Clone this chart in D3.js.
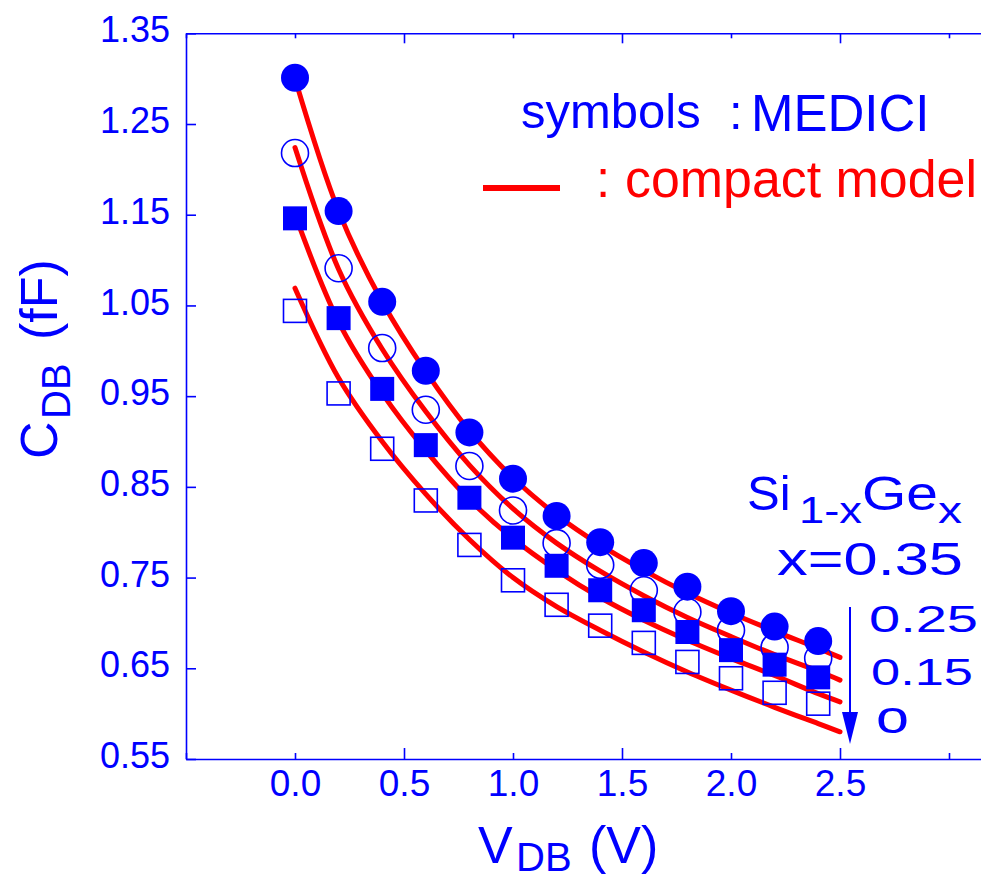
<!DOCTYPE html>
<html>
<head>
<meta charset="utf-8">
<script src="https://cdn.jsdelivr.net/npm/d3@7/dist/d3.min.js"></script>
<style>
  html, body { margin: 0; padding: 0; background: #ffffff; }
  svg { display: block; }
  text { font-family: "Liberation Sans", Arial, sans-serif; }
</style>
</head>
<body>
<svg id="chart" width="981" height="880"></svg>
<script>
// ---------------- data ----------------
const vdb = [0, 0.2, 0.4, 0.6, 0.8, 1.0, 1.2, 1.4, 1.6, 1.8, 2.0, 2.2, 2.4];
// MEDICI symbols
const medici035 = [1.301, 1.154, 1.054, 0.978, 0.910, 0.859, 0.818, 0.789, 0.766, 0.740, 0.713, 0.696, 0.680];
const medici025 = [1.218, 1.091, 1.003, 0.935, 0.873, 0.824, 0.788, 0.764, 0.736, 0.712, 0.692, 0.673, 0.661];
const medici015 = [1.146, 1.036, 0.958, 0.896, 0.838, 0.794, 0.763, 0.736, 0.714, 0.690, 0.670, 0.654, 0.640];
const medici000 = [1.044, 0.953, 0.892, 0.835, 0.786, 0.747, 0.720, 0.697, 0.678, 0.657, 0.639, 0.623, 0.611];
// compact model curves
const vModel = [0, 0.2, 0.4, 0.6, 0.8, 1.0, 1.2, 1.4, 1.6, 1.8, 2.0, 2.2, 2.4, 2.5];
const model035 = [1.300, 1.154, 1.054, 0.977, 0.912, 0.860, 0.819, 0.786, 0.758, 0.733, 0.711, 0.691, 0.672, 0.662];
const model025 = [1.224, 1.090, 1.002, 0.933, 0.874, 0.826, 0.788, 0.757, 0.730, 0.706, 0.685, 0.665, 0.647, 0.637];
const model015 = [1.150, 1.032, 0.953, 0.890, 0.836, 0.793, 0.758, 0.728, 0.703, 0.681, 0.661, 0.642, 0.622, 0.613];
const model000 = [1.069, 0.970, 0.900, 0.842, 0.792, 0.750, 0.718, 0.692, 0.668, 0.646, 0.626, 0.607, 0.589, 0.580];
// ticks
const xTickValues = [-0.5, 0, 0.5, 1.0, 1.5, 2.0, 2.5, 3.0, 3.5];
const xMajorTicks = [0.5, 1.5, 2.5];
const xTickLabels = {"0": "0.0", "0.5": "0.5", "1": "1.0", "1.5": "1.5", "2": "2.0", "2.5": "2.5"};
const yTickValues = [0.55, 0.65, 0.75, 0.85, 0.95, 1.05, 1.15, 1.25, 1.35];
const yTickLabels = ["0.55", "0.65", "0.75", "0.85", "0.95", "1.05", "1.15", "1.25", "1.35"];

// ---------------- layout ----------------
const BLUE = "#0000ff", RED = "#ff0000";
const svg = d3.select("#chart");
const x = d3.scaleLinear().domain([-0.5, 3.5]).range([186, 186 + 4 * 218]);
const y = d3.scaleLinear().domain([0.55, 1.35]).range([759, 33.3]);

// ---------------- axes ----------------
const yAxis = d3.axisLeft(y).tickValues(yTickValues).tickSizeInner(-10).tickSizeOuter(0).tickPadding(16)
  .tickFormat((d, i) => yTickLabels[i]);
const gy = svg.append("g").attr("transform", `translate(${x(-0.5)},0)`).call(yAxis);
gy.selectAll("text").attr("dy", "0.24em").attr("font-size", 36).attr("fill", BLUE)
  .attr("font-family", "Liberation Sans, Arial, sans-serif");

const xAxis = d3.axisBottom(x).tickValues(xTickValues).tickSizeInner(-6).tickSizeOuter(0).tickPadding(10.5)
  .tickFormat(d => xTickLabels[String(d)] || "");
const gx = svg.append("g").attr("transform", `translate(0,${y(0.55)})`).call(xAxis);
gx.selectAll(".tick line").attr("y2", d => xMajorTicks.includes(d) ? -11 : -6);
gx.selectAll("text").attr("font-size", 37).attr("fill", BLUE)
  .attr("font-family", "Liberation Sans, Arial, sans-serif");

const xTop = d3.axisTop(x).tickValues(xTickValues).tickSizeInner(-5).tickSizeOuter(0).tickFormat("");
const gt = svg.append("g").attr("transform", `translate(0,${y(1.35)})`).call(xTop);
gt.selectAll(".tick line").attr("y2", d => xMajorTicks.includes(d) ? 10 : 5);

svg.selectAll(".domain, .tick line").attr("stroke", BLUE).attr("stroke-width", 1.6);

// ---------------- model curves ----------------
const line = d3.line().x(d => x(d[0])).y(d => y(d[1])).curve(d3.curveCatmullRom.alpha(0.5));
[model035, model025, model015, model000].forEach(m => {
  svg.append("path").datum(vModel.map((v, i) => [v, m[i]]))
    .attr("d", line).attr("fill", "none").attr("stroke", RED)
    .attr("stroke-width", 5).attr("stroke-linecap", "round");
});

// ---------------- symbols ----------------
const pts = arr => vdb.map((v, i) => [v, arr[i]]);
// open squares (x=0)
svg.append("g").selectAll("rect").data(pts(medici000)).join("rect")
  .attr("x", d => x(d[0]) - 11.5).attr("y", d => y(d[1]) - 11.5)
  .attr("width", 23).attr("height", 23)
  .attr("fill", "none").attr("stroke", BLUE).attr("stroke-width", 1.6);
// open circles (x=0.25)
svg.append("g").selectAll("circle").data(pts(medici025)).join("circle")
  .attr("cx", d => x(d[0])).attr("cy", d => y(d[1])).attr("r", 13.5)
  .attr("fill", "none").attr("stroke", BLUE).attr("stroke-width", 1.6);
// filled squares (x=0.15)
svg.append("g").selectAll("rect").data(pts(medici015)).join("rect")
  .attr("x", d => x(d[0]) - 12).attr("y", d => y(d[1]) - 12)
  .attr("width", 24).attr("height", 24).attr("fill", BLUE);
// filled circles (x=0.35)
svg.append("g").selectAll("circle").data(pts(medici035)).join("circle")
  .attr("cx", d => x(d[0])).attr("cy", d => y(d[1])).attr("r", 14)
  .attr("fill", BLUE);

// ---------------- legend ----------------
svg.append("text").attr("x", 521).attr("y", 128).attr("font-size", 49).attr("fill", BLUE).text("symbols");
svg.append("text").attr("x", 729).attr("y", 129).attr("font-size", 49).attr("fill", BLUE).text(":");
svg.append("text").attr("x", 751).attr("y", 131).attr("font-size", 51).attr("fill", BLUE).text("MEDICI");
svg.append("line").attr("x1", 483).attr("x2", 560).attr("y1", 188).attr("y2", 188)
  .attr("stroke", RED).attr("stroke-width", 6);
svg.append("text").attr("x", 596).attr("y", 197).attr("font-size", 51).attr("fill", RED).text(":");
svg.append("text").attr("x", 625).attr("y", 197).attr("font-size", 51).attr("fill", RED)
  .attr("textLength", 352).attr("lengthAdjust", "spacingAndGlyphs").text("compact model");

// ---------------- composition labels ----------------
svg.append("text").attr("x", 747).attr("y", 510).attr("font-size", 49).attr("fill", BLUE).text("Si");
svg.append("text").attr("x", 799).attr("y", 523).attr("font-size", 37).attr("fill", BLUE)
  .attr("textLength", 63).attr("lengthAdjust", "spacingAndGlyphs").text("1-x");
svg.append("text").attr("x", 862).attr("y", 510).attr("font-size", 49).attr("fill", BLUE)
  .attr("textLength", 76).attr("lengthAdjust", "spacingAndGlyphs").text("Ge");
svg.append("text").attr("x", 938).attr("y", 523).attr("font-size", 37).attr("fill", BLUE)
  .attr("textLength", 24).attr("lengthAdjust", "spacingAndGlyphs").text("x");
svg.append("text").attr("x", 777).attr("y", 575).attr("font-size", 46).attr("fill", BLUE)
  .attr("textLength", 186).attr("lengthAdjust", "spacingAndGlyphs").text("x=0.35");
svg.append("text").attr("x", 869).attr("y", 632).attr("font-size", 37).attr("fill", BLUE)
  .attr("textLength", 109).attr("lengthAdjust", "spacingAndGlyphs").text("0.25");
svg.append("text").attr("x", 871).attr("y", 685).attr("font-size", 37).attr("fill", BLUE)
  .attr("textLength", 102).attr("lengthAdjust", "spacingAndGlyphs").text("0.15");
svg.append("text").attr("x", 876).attr("y", 733).attr("font-size", 46).attr("fill", BLUE)
  .attr("textLength", 33).attr("lengthAdjust", "spacingAndGlyphs").text("o");
// arrow
svg.append("line").attr("x1", 850).attr("x2", 850).attr("y1", 607).attr("y2", 716)
  .attr("stroke", BLUE).attr("stroke-width", 2);
svg.append("path").attr("d", "M842,712 L858,712 L850,744 Z").attr("fill", BLUE);

// ---------------- axis titles ----------------
const xt = svg.append("text").attr("y", 863).attr("font-size", 52).attr("fill", BLUE);
xt.append("tspan").attr("x", 478).text("V");
xt.append("tspan").attr("x", 516).attr("y", 871).attr("font-size", 40).text("DB");
xt.append("tspan").attr("x", 589).attr("y", 863).text("(V)");

const yt = svg.append("g").attr("transform", "rotate(-90)")
  .append("text").attr("y", 57).attr("font-size", 52).attr("fill", BLUE);
yt.append("tspan").attr("x", -459).text("C");
yt.append("tspan").attr("x", -419).attr("y", 70).attr("font-size", 40).text("DB");
yt.append("tspan").attr("x", -340).attr("y", 57).text("(fF)");
</script>
</body>
</html>
